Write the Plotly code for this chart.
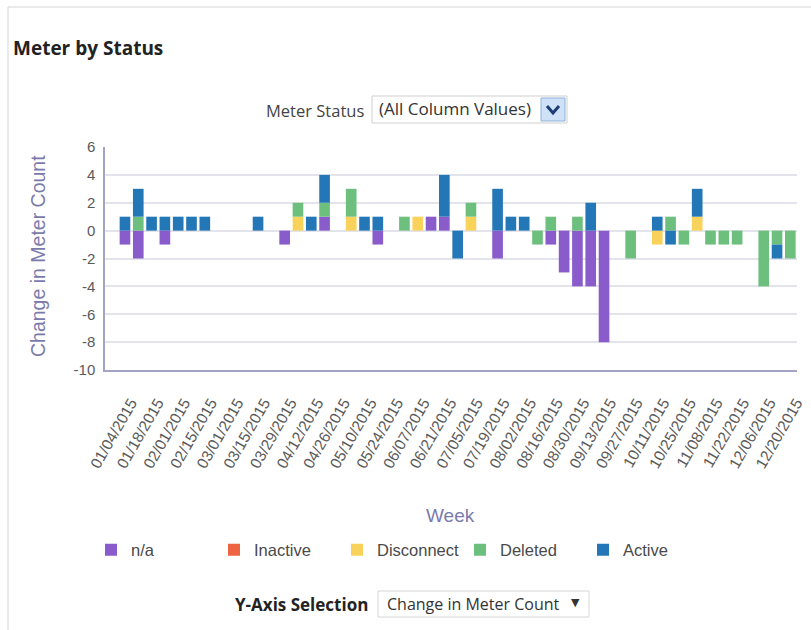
import plotly.graph_objects as go

# Weekly buckets (week starting Sunday), 2015
weeks = [
    "01/04/2015", "01/11/2015", "01/18/2015", "01/25/2015", "02/01/2015", "02/08/2015",
    "02/15/2015", "02/22/2015", "03/01/2015", "03/08/2015", "03/15/2015", "03/22/2015",
    "03/29/2015", "04/05/2015", "04/12/2015", "04/19/2015", "04/26/2015", "05/03/2015",
    "05/10/2015", "05/17/2015", "05/24/2015", "05/31/2015", "06/07/2015", "06/14/2015",
    "06/21/2015", "06/28/2015", "07/05/2015", "07/12/2015", "07/19/2015", "07/26/2015",
    "08/02/2015", "08/09/2015", "08/16/2015", "08/23/2015", "08/30/2015", "09/06/2015",
    "09/13/2015", "09/20/2015", "09/27/2015", "10/04/2015", "10/11/2015", "10/18/2015",
    "10/25/2015", "11/01/2015", "11/08/2015", "11/15/2015", "11/22/2015", "11/29/2015",
    "12/06/2015", "12/13/2015", "12/20/2015",
]

# Change in meter count per status, one value per week
na_values = [
    -1, -2, 0, -1, 0, 0, 0, 0, 0, 0, 0, 0, -1, 0, 0, 1, 0, 0, 0, -1,
    0, 0, 0, 1, 1, 0, 0, 0, -2, 0, 0, 0, -1, -3, -4, -4, -8, 0, 0, 0,
    0, 0, 0, 0, 0, 0, 0, 0, 0, 0, 0,
]
inactive_values = [0] * 51
disconnect_values = [
    0, 0, 0, 0, 0, 0, 0, 0, 0, 0, 0, 0, 0, 1, 0, 0, 0, 1, 0, 0,
    0, 0, 1, 0, 0, 0, 1, 0, 0, 0, 0, 0, 0, 0, 0, 0, 0, 0, 0, 0,
    -1, 0, 0, 1, 0, 0, 0, 0, 0, 0, 0,
]
deleted_values = [
    0, 1, 0, 0, 0, 0, 0, 0, 0, 0, 0, 0, 0, 1, 0, 1, 0, 2, 0, 0,
    0, 1, 0, 0, 0, 0, 1, 0, 0, 0, 0, -1, 1, 0, 1, 0, 0, 0, -2, 0,
    0, 1, -1, 0, -1, -1, -1, 0, -4, -1, -2,
]
active_values = [
    1, 2, 1, 1, 1, 1, 1, 0, 0, 0, 1, 0, 0, 0, 1, 2, 0, 0, 1, 1,
    0, 0, 0, 0, 3, -2, 0, 0, 3, 1, 1, 0, 0, 0, 0, 2, 0, 0, 0, 0,
    1, -1, 0, 2, 0, 0, 0, 0, 0, -1, 0,
]

series_names = ["n/a", "Inactive", "Disconnect", "Deleted", "Active"]
series_values = [na_values, inactive_values, disconnect_values, deleted_values, active_values]
series_colors = ["#8a5bcb", "#ee6342", "#f8d25b", "#6cbf7d", "#2477b6"]

y_ticks = [6, 4, 2, 0, -2, -4, -6, -8, -10]

W, H = 811, 630
L, R, T, B = 105, 14, 147, 260
PW, PH = W - L - R, H - T - B


def px(x):
    return (x - L) / PW


def py(y):
    return (H - B - y) / PH


fig = go.Figure()
for name, vals, col in zip(series_names, series_values, series_colors):
    fig.add_trace(go.Bar(
        x=weeks, y=vals, name=name,
        marker=dict(color=col, line=dict(width=0)),
    ))

chart_font = "Liberation Sans, Arial, sans-serif"
title_color = "#7b7bab"
ui_font = "Open Sans, Noto Sans, sans-serif"

fig.update_layout(
    width=W, height=H,
    margin=dict(l=L, r=R, t=T, b=B, autoexpand=False),
    paper_bgcolor="white", plot_bgcolor="white",
    barmode="relative", bargap=0.2,
    showlegend=True,
    legend=dict(
        orientation="h", x=px(91), y=py(550), xanchor="left", yanchor="middle",
        entrywidth=78, entrywidthmode="pixels", traceorder="normal",
        font=dict(family=chart_font, size=16.5, color="#4a4a4a"),
        bgcolor="rgba(0,0,0,0)",
    ),
    xaxis=dict(
        type="category", categoryorder="array", categoryarray=weeks,
        range=[-1.5, 50.5], tickmode="array", tickvals=weeks[::2], ticktext=weeks[::2],
        tickangle=-60, tickfont=dict(family=chart_font, size=15.5, color="#5a5a5a"),
        ticklabelstandoff=16, ticklabelshift=6,
        showgrid=False, showline=True, linecolor="#a3a3c4", linewidth=1.5,
        ticks="", zeroline=False, fixedrange=True,
    ),
    yaxis=dict(
        range=[-10, 6], tickmode="array", tickvals=y_ticks, ticktext=[str(v) for v in y_ticks],
        tickfont=dict(family=chart_font, size=15, color="#5a5a5a"), ticklabelstandoff=5,
        showgrid=True, gridcolor="#e3e3eb", gridwidth=1.5,
        showline=True, linecolor="#a3a3c4", linewidth=1.5, ticks="",
        zeroline=False, fixedrange=True,
    ),
)

annotations = [
    dict(text="<b>Meter by Status</b>", x=px(11), y=py(48), xanchor="left", yanchor="middle",
         font=dict(family=ui_font, size=19, color="#222222")),
    dict(text="Meter Status", x=px(366), y=py(110), xanchor="right", yanchor="middle",
         font=dict(family=ui_font, size=16.5, color="#444444")),
    dict(text="(All Column Values)", x=px(377), y=py(109), xanchor="left", yanchor="middle",
         font=dict(family=ui_font, size=17, color="#333333")),
    dict(text="Change in Meter Count", x=px(38), y=py(256), xanchor="center", yanchor="middle",
         textangle=-90, font=dict(family=chart_font, size=19.5, color=title_color)),
    dict(text="Week", x=px(450), y=py(515), xanchor="center", yanchor="middle",
         font=dict(family=chart_font, size=19, color=title_color)),
    dict(text="<b>Y-Axis Selection</b>", x=px(370), y=py(604), xanchor="right", yanchor="middle",
         font=dict(family=ui_font, size=17, color="#222222")),
    dict(text="Change in Meter Count", x=px(385), y=py(604), xanchor="left", yanchor="middle",
         font=dict(family=ui_font, size=16, color="#333333")),
    dict(text="▼", x=px(575), y=py(602), xanchor="center", yanchor="middle",
         font=dict(family="DejaVu Sans, sans-serif", size=11, color="#333333")),
]
for a in annotations:
    a.update(xref="paper", yref="paper", showarrow=False)
fig.update_layout(annotations=annotations)

shapes = [
    # outer panel frame
    dict(type="rect", x0=px(8), x1=px(830), y0=py(7), y1=py(650),
         line=dict(color="#d4d4d4", width=1), fillcolor="rgba(0,0,0,0)"),
    # Meter Status dropdown
    dict(type="rect", x0=px(372), x1=px(567), y0=py(96), y1=py(123),
         line=dict(color="#cfcfcf", width=1), fillcolor="white"),
    dict(type="rect", x0=px(541), x1=px(565), y0=py(98), y1=py(121),
         line=dict(color="#8fb1da", width=1), fillcolor="#cfe1f6"),
    dict(type="path",
         path=f"M {px(547)},{py(106)} L {px(553)},{py(113)} L {px(559)},{py(106)}",
         line=dict(color="#1d3c75", width=3)),
    # Y-Axis Selection dropdown
    dict(type="rect", x0=px(378), x1=px(589), y0=py(591), y1=py(617),
         line=dict(color="#d6d6d6", width=1), fillcolor="white"),
]
for s in shapes:
    s.update(xref="paper", yref="paper")
fig.update_layout(shapes=shapes)

fig.write_html("out.html")
